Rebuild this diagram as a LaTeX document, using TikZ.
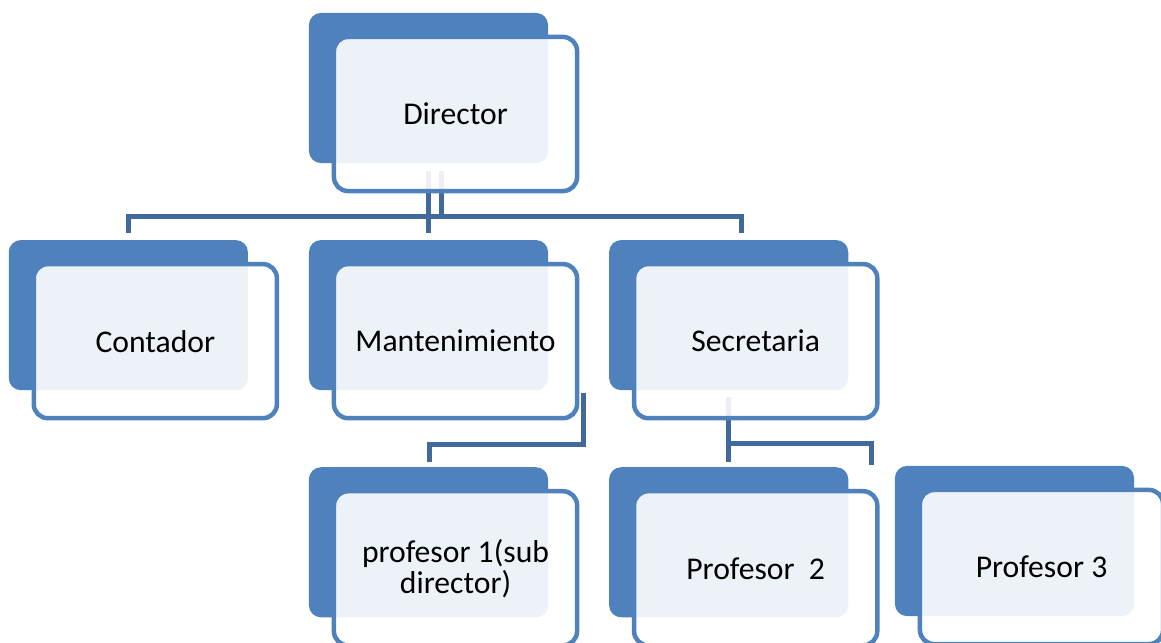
\documentclass[tikz,border=0pt]{standalone}
\usepackage{fontspec}
\setmainfont{Carlito}
\usetikzlibrary{positioning}
\usetikzlibrary{calc}
\usetikzlibrary{backgrounds}
\definecolor{boxblue}{HTML}{4F81BD}
\definecolor{linkblue}{HTML}{41699B}

\begin{document}
\begin{tikzpicture}[x=0.01cm,y=-0.01cm, font=\fontsize{9}{8.8}\selectfont,
                    every node/.append style={on grid,node distance=2.27cm and 3cm},
                    back/.style={fill=boxblue,rounded corners=0.12cm,minimum width=2.39cm,minimum height=1.5cm,inner sep=0pt},
                    front/.style={draw=boxblue,line width=0.045cm,fill=white,fill opacity=0.9,text opacity=1,
                                  rounded corners=0.14cm,minimum width=2.43cm,minimum height=1.54cm,inner sep=0pt,
                                  align=center,below right=0.26cm and 0.27cm of #1},
                    link/.style={draw=linkblue,line width=0.05cm}]

\useasboundingbox (0,0) rectangle (1161,643);

\node[back] (dirB) at (428.5,88) {};
\node[back,below=of dirB] (manB) {};
\node[back,left=of manB] (conB) {};
\node[back,right=of manB] (secB) {};
\node[back,below=of manB] (p1B) {};
\node[back,below=of secB] (p2B) {};
\node[back] (p3B) at (1014.5,541) {};

\node[front=dirB] (dir) {Director};
\node[front=conB] (con) {Contador};
\node[front=manB] (man) {Mantenimiento};
\node[front=secB] (sec) {Secretaria};
\node[front=p1B] (p1) {profesor 1(sub\\director)};
\node[front=p2B] (p2) {Profesor\ \ 2};
\node[front=p3B] (p3) {Profesor 3};

% connectors, under the boxes
\begin{pgfonlayer}{background}
\coordinate (bus) at ($(dirB.south)+(12.5,53)$);
\draw[link,shorten <=0.07cm,shorten >=0.06cm] (dirB.south) -- (manB.north);
\draw[link] ($(dirB.south)+(12.5,7)$) -- (bus);
\draw[link] ([shift={(0.5,-6)}]conB.north) |- (bus) -| ([shift={(12.5,-6)}]secB.north);
\draw[link] ([shift={(4.5,52)}]man.east) -- ++(0,51) -| ([shift={(0.5,-5)}]p1B.north);
\coordinate (secbus) at ($(secB.south)+(0,53)$);
\draw[link] ([shift={(0,6)}]secB.south) -- ([shift={(0,-5)}]p2B.north);
\draw[link] (secbus) -| ([shift={(-23,0)}]p3B.north west);
\end{pgfonlayer}

\end{tikzpicture}
\end{document}
